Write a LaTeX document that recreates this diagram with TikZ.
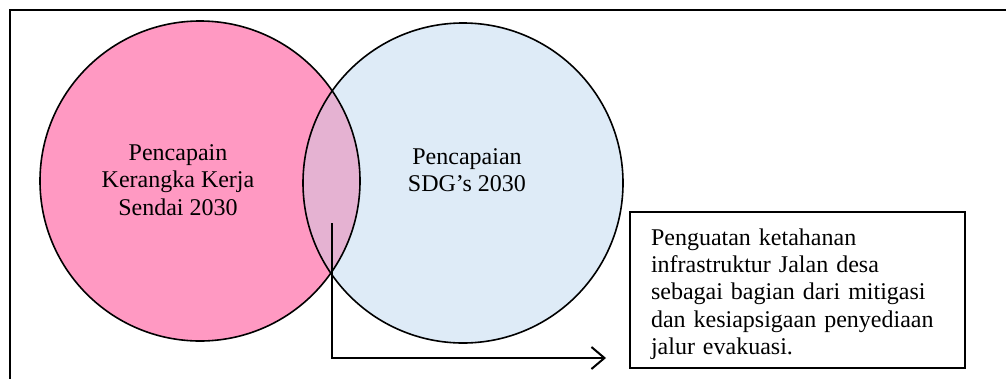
\documentclass[tikz,border=0pt]{standalone}
\usepackage{fontspec}
\setmainfont{Liberation Serif}
\usetikzlibrary{arrows.meta}

\definecolor{sendaipink}{RGB}{255,153,194}
\definecolor{sdgblue}{RGB}{222,235,247}
\definecolor{lenspink}{RGB}{229,178,210}

\tikzset{
    circ/.style={draw=black, line width=1.6pt},
    lbl/.style={align=center, font=\fontsize{24}{27.5}\selectfont},
    infobox/.style={draw=black, line width=1.6pt, minimum width=335pt, minimum height=156pt},
    infotext/.style={text width=293pt, align=left, font=\fontsize{24}{27.3}\selectfont},
}

\begin{document}
\begin{tikzpicture}[x=1pt,y=-1pt]
    \useasboundingbox (0,0) rectangle (1006,378);
    % outer frame
    \draw[line width=2pt] (10,400) -- (10,10) -- (1020,10);

    % the two circles and their overlap
    \fill[sendaipink] (200,181) circle (160);
    \fill[sdgblue] (463,183) circle (160);
    \begin{scope}
        \clip (200,181) circle (160);
        \fill[lenspink] (463,183) circle (160);
    \end{scope}
    \draw[circ] (200,181) circle (160);
    \draw[circ] (463,183) circle (160);

    \node[lbl] (sendai) at (178,180) {Pencapain\\Kerangka Kerja\\Sendai 2030};
    \node[lbl] (sdg) at (467,170) {Pencapaian\\SDG’s 2030};

    \node[infobox] (info) at (797.5,290) {};
    \node[infotext] (infotxt) at ([yshift=-4pt]info.center) {Penguatan ketahanan\\infrastruktur Jalan desa\\sebagai bagian dari mitigasi\\dan kesiapsigaan penyediaan\\jalur evakuasi.};

    % pointer from the overlap to the box
    \coordinate (lens) at (332,223);
    \coordinate (tip) at (606,358);
    \draw[line width=2pt, -{Straight Barb[length=13pt,width=22pt,line width=2pt]}] (lens) |- (tip);

\end{tikzpicture}
\end{document}
